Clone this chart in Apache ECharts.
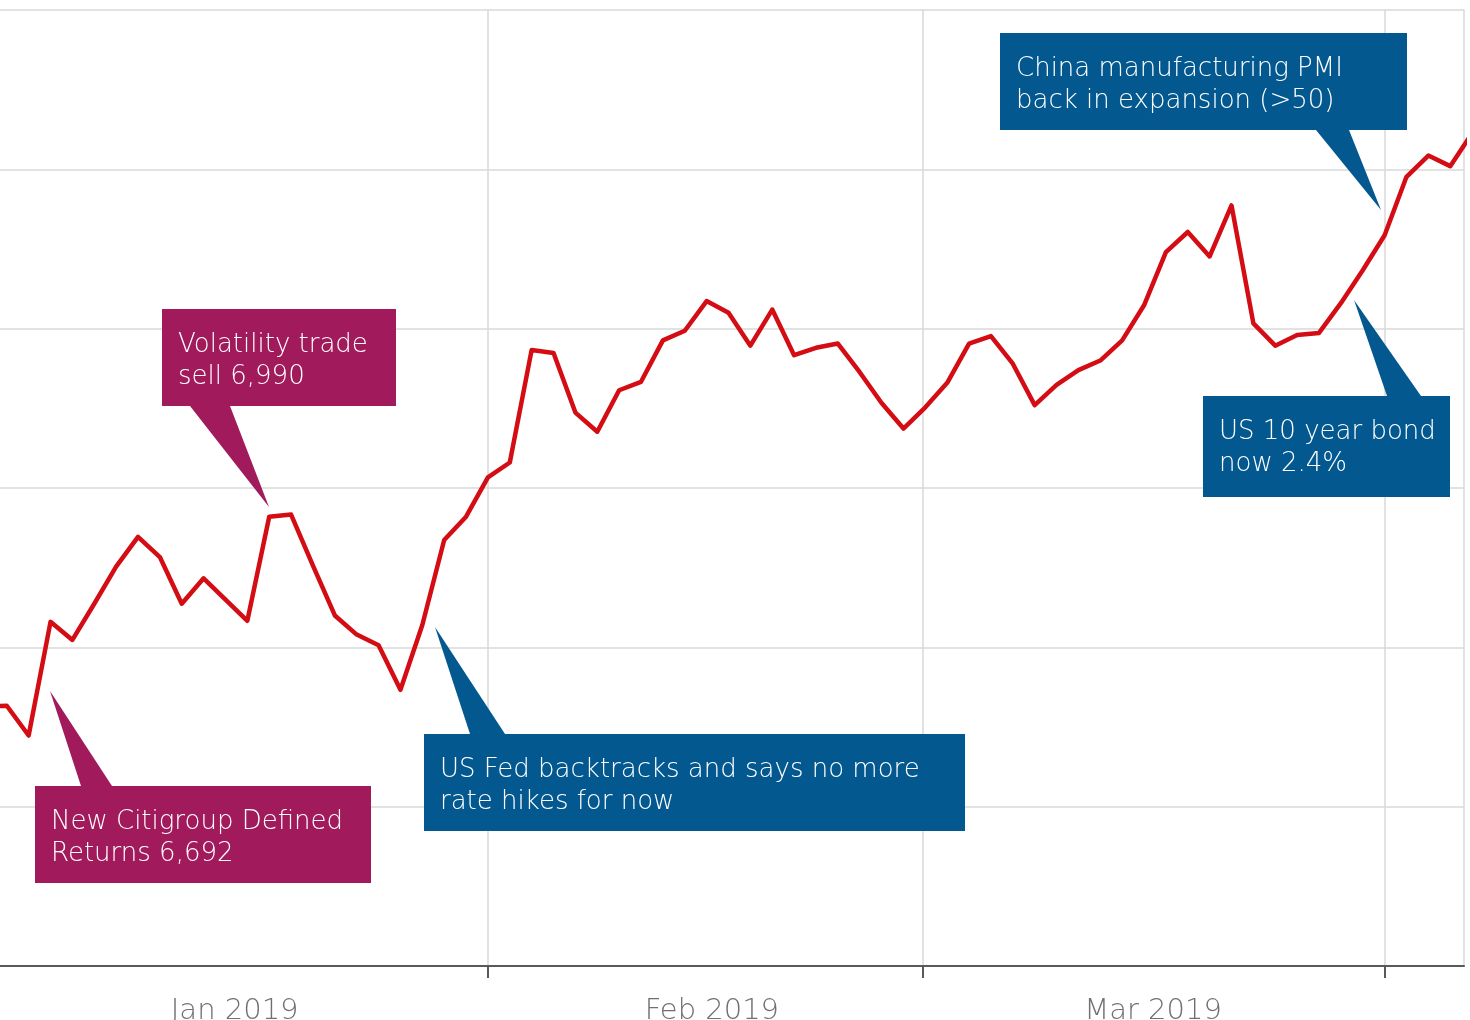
<!DOCTYPE html>
<html>
<head>
<meta charset="utf-8">
<title>Index, Jan - Apr 2019</title>
<script src="https://cdn.jsdelivr.net/npm/echarts@6/dist/echarts.min.js"></script>
<style>
html, body { margin: 0; padding: 0; background: #fff; }
#chart { width: 1470px; height: 1020px; }
</style>
</head>
<body>
<div id="chart"></div>
<script>
// daily closes, one per weekday: index 0 = 1 Jan 2019 ... index 68 = 5 Apr 2019
var closes = [
    5644, 5645, 5617, 5724, 5707, 5741, 5776, 5804, 5785, 5741,
    5765, 5745, 5725, 5823, 5825, 5777, 5730, 5712, 5702, 5660,
    5721, 5801, 5823, 5860, 5874, 5980, 5977, 5921, 5903, 5942,
    5950, 5989, 5998, 6026, 6015, 5984, 6018, 5975, 5982, 5986,
    5959, 5930, 5906, 5926, 5949, 5986, 5993, 5967, 5928, 5947,
    5961, 5970, 5989, 6022, 6072, 6091, 6068, 6116, 6005, 5984,
    5994, 5996, 6024, 6055, 6088, 6143, 6163, 6153, 6184
];

// month boundaries (1 Feb, 1 Mar, 1 Apr) on the weekday scale
var monthStarts = [23, 42.9, 64];
var monthLabels = ["Jan 2019", "Feb 2019", "Mar 2019"];
var monthLabelAt = [11.42, 33.24, 53.41];

var noteTexts = [
    "New Citigroup Defined\nReturns 6,692",
    "Volatility trade\nsell 6,990",
    "US Fed backtracks and says no more\nrate hikes for now",
    "China manufacturing PMI\nback in expansion (>50)",
    "US 10 year bond\nnow 2.4%"
];

var magenta = "#a11a5b";
var blue = "#03598f";

// callout layout: box [x, y, w, h], pointer base x1/x2 on the box edge, tip
var noteLayout = [
    { box: [35, 786, 336, 97], base: [81, 112, 786], tip: [50, 691], color: magenta },
    { box: [162, 309, 234, 97], base: [190, 230, 406], tip: [269, 507], color: magenta },
    { box: [424, 734, 541, 97], base: [470, 505, 734], tip: [435, 627], color: blue },
    { box: [1000, 33, 407, 97], base: [1316, 1349, 130], tip: [1381, 210], color: blue },
    { box: [1203, 396, 247, 101], base: [1387, 1421, 396], tip: [1354, 300], color: blue },
];

var chart = echarts.init(document.getElementById("chart"));

var lineData = closes.map(function (v, i) {
    return [i, v];
});

var graphics = [];
noteLayout.forEach(function (n, i) {
    graphics.push({
        type: "polygon",
        z: 100,
        silent: true,
        shape: {
            points: [[n.base[0], n.base[2]], [n.base[1], n.base[2]], n.tip],
        },
        style: { fill: n.color },
    });
    graphics.push({
        type: "rect",
        z: 100,
        silent: true,
        shape: { x: n.box[0], y: n.box[1], width: n.box[2], height: n.box[3] },
        style: { fill: n.color },
    });
    graphics.push({
        type: "text",
        z: 101,
        silent: true,
        x: n.box[0] + 16,
        y: n.box[1] + 20,
        style: {
            text: noteTexts[i],
            fill: "#fff",
            fontFamily: "DejaVu Sans",
            fontWeight: 300,
            fontSize: 26,
            lineHeight: 32,
            textVerticalAlign: "top",
        },
    });
});

var option = {
    animation: false,
    backgroundColor: "#fff",
    grid: {
        left: 0,
        right: 6,
        top: 10,
        bottom: 54,
        outerBoundsMode: "none",
    },
    xAxis: {
        type: "value",
        min: 0.69,
        max: 67.63,
        axisLine: {
            show: true,
            lineStyle: { color: "#595959", width: 2 },
        },
        axisTick: {
            show: true,
            length: 12,
            customValues: monthStarts,
            lineStyle: { color: "#595959", width: 2 },
        },
        splitLine: {
            show: true,
            lineStyle: { color: "#d9d9d9", width: 1.5 },
        },
        axisLabel: {
            customValues: monthLabelAt,
            margin: 31,
            color: "#707070",
            fontFamily: "DejaVu Sans",
            fontWeight: 300,
            fontSize: 29,
            formatter: function (v) {
                for (var i = 0; i < monthLabelAt.length; i++) {
                    if (Math.abs(monthLabelAt[i] - v) < 0.01) return monthLabels[i];
                }
                return "";
            },
        },
    },
    yAxis: {
        type: "value",
        position: "right",
        min: 5400,
        max: 6300,
        interval: 150,
        axisLine: {
            show: true,
            lineStyle: { color: "#d9d9d9", width: 1.5 },
        },
        axisTick: { show: false },
        axisLabel: { show: false },
        splitLine: {
            show: true,
            lineStyle: { color: "#d9d9d9", width: 1.5 },
        },
    },
    series: [
        {
            type: "line",
            data: lineData,
            showSymbol: false,
            silent: true,
            z: 3,
            lineStyle: {
                color: "#d40c14",
                width: 4.5,
                join: "round",
                cap: "round",
            },
        },
    ],
    graphic: graphics,
};

chart.setOption(option);
</script>
</body>
</html>
